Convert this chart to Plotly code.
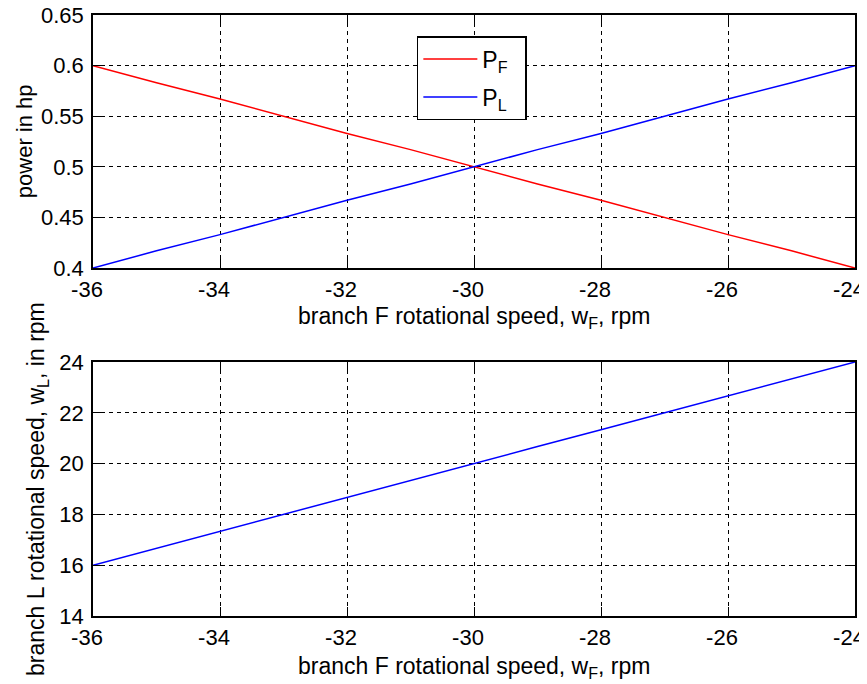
import plotly.graph_objects as go
from plotly.subplots import make_subplots

# data
w_F = [-36, -35, -34, -33, -32, -31, -30, -29, -28, -27, -26, -25, -24]
P_F = [0.600, 0.583, 0.567, 0.550, 0.533, 0.517, 0.500, 0.483, 0.467, 0.450, 0.433, 0.417, 0.400]
P_L = [0.400, 0.417, 0.433, 0.450, 0.467, 0.483, 0.500, 0.517, 0.533, 0.550, 0.567, 0.583, 0.600]
w_L = [16.00, 16.67, 17.33, 18.00, 18.67, 19.33, 20.00, 20.67, 21.33, 22.00, 22.67, 23.33, 24.00]

x_ticks = [-36, -34, -32, -30, -28, -26, -24]
y1_ticks = [0.4, 0.45, 0.5, 0.55, 0.6, 0.65]
y1_labels = ["0.4", "0.45", "0.5", "0.55", "0.6", "0.65"]
y2_ticks = [14, 16, 18, 20, 22, 24]

FONT = "Liberation Sans, Arial, sans-serif"
FS = 22   # tick labels
FT = 23   # titles / legend

fig = make_subplots(rows=2, cols=1)
fig.add_trace(go.Scatter(x=w_F, y=P_F, mode="lines", name="P<sub>F</sub>&nbsp;&nbsp;",
                         legendgroup="f", line=dict(color="#ff0000", width=1.5)), row=1, col=1)
fig.add_trace(go.Scatter(x=w_F, y=P_L, mode="lines", name="P<sub>L</sub>&nbsp;&nbsp;",
                         legendgroup="l", line=dict(color="#0000ff", width=1.5)), row=1, col=1)
fig.add_trace(go.Scatter(x=w_F, y=w_L, mode="lines", showlegend=False,
                         line=dict(color="#0000ff", width=1.5)), row=2, col=1)

axis_common = dict(
    showline=True, linecolor="black", linewidth=1.5, mirror="ticks",
    ticks="inside", ticklen=9, tickwidth=1.2, tickcolor="black",
    showgrid=True, gridcolor="black", gridwidth=1, griddash="4px,4px",
    zeroline=False, tickfont=dict(family=FONT, size=FS, color="black"),
    automargin=False, ticklabeloverflow="allow",
)

fig.update_xaxes(range=[-36, -24], tickvals=x_ticks, ticktext=[str(v) for v in x_ticks],
                 ticklabelstandoff=1, ticklabelshift=-6, **axis_common)
fig.update_yaxes(ticklabelstandoff=3, **axis_common)
fig.update_yaxes(range=[0.4, 0.65], tickvals=y1_ticks, ticktext=y1_labels, row=1, col=1)
fig.update_yaxes(range=[14, 24], tickvals=y2_ticks, ticktext=[str(v) for v in y2_ticks], row=2, col=1)

# the page body adds an 8px offset; size the figure so the plot areas land where the reference has them
fig.update_layout(
    width=859, height=676,
    margin=dict(l=85, r=12, t=7, b=68),
    paper_bgcolor="white", plot_bgcolor="white",
    font=dict(family=FONT, size=FS, color="black"),
    yaxis=dict(domain=[0.579, 1.0]),
    yaxis2=dict(domain=[0.0, 0.4226]),
    showlegend=True,
    legend=dict(x=0.425, y=0.965, xanchor="left", yanchor="top",
                bgcolor="white", bordercolor="black", borderwidth=1.5,
                font=dict(family=FONT, size=FT, color="black"),
                itemwidth=54, traceorder="grouped", tracegroupgap=5),
    annotations=[
        dict(text="power in hp", xref="paper", yref="paper", x=-0.0906, y=0.79,
             xanchor="center", yanchor="middle", textangle=-90, showarrow=False,
             font=dict(family=FONT, size=FS)),
        dict(text="branch L rotational speed, w<sub>L</sub>, in rpm", xref="paper", yref="paper",
             x=-0.0735, y=0.2113, xanchor="center", yanchor="middle", textangle=-90,
             showarrow=False, font=dict(family=FONT, size=FT)),
        dict(text="branch F rotational speed, w<sub>F</sub>, rpm", xref="paper", yref="paper",
             x=0.5, y=0.4975, xanchor="center", yanchor="middle", showarrow=False,
             font=dict(family=FONT, size=FT)),
        dict(text="branch F rotational speed, w<sub>F</sub>, rpm", xref="paper", yref="paper",
             x=0.5, y=-0.0849, xanchor="center", yanchor="middle", showarrow=False,
             font=dict(family=FONT, size=FT)),
    ],
)

fig.write_html("out.html")
